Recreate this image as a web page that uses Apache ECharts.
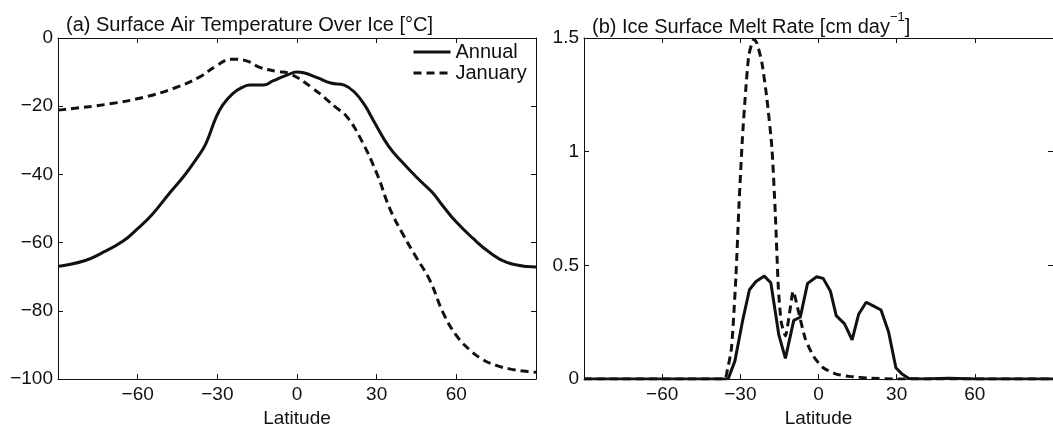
<!DOCTYPE html>
<html><head><meta charset="utf-8">
<script src="https://cdn.jsdelivr.net/npm/echarts@6/dist/echarts.min.js"></script>
<style>html,body{margin:0;padding:0;background:#fff}#c{width:1053px;height:433px}</style>
</head><body><div id="c"></div>
<script>
// ---- data ----
const latTicks = [-90, -60, -30, 0, 30, 60, 90];
const tempTicks = [-100, -80, -60, -40, -20, 0];
const meltTicks = [0, 0.5, 1, 1.5];

const annualTempLat = [-90,-87.9,-80,-73.9,-65.6,-59.9,-54.8,-47.8,-42.7,-38.2,-34.4,-30.6,-28,-24.2,-20.4,-17.8,-12.7,-8.9,-3.8,0,2.5,7.6,12.7,17.8,21.7,25.5,29.3,34.4,39.5,45.9,51,54.8,59.9,66.2,72.6,79,86.6,90];
const annualTempVal = [-66.9,-66.7,-65.3,-63.2,-59.6,-55.8,-52,-45.3,-40.6,-35.8,-31.1,-23.5,-19.7,-16.3,-14.4,-13.8,-13.8,-12.5,-10.9,-10,-10.2,-11.6,-13.2,-13.8,-15.9,-19.7,-24.9,-31.6,-36.3,-41.5,-45.3,-49.1,-53.9,-58.7,-62.9,-65.8,-67,-67.1];

const janTempLat = [-90,-88,-70.5,-57.9,-46.6,-36.6,-30.3,-24.6,-19,-14,-7.6,-2.7,6,14.9,18.6,23.6,30,35,40,45,50,55,60,65,70,75,80,87,90];
const janTempVal = [-21.1,-21,-19.3,-17.4,-14.8,-11.4,-8.1,-6.2,-6.7,-8.6,-9.8,-10.5,-14.8,-20.5,-22.9,-29,-39.6,-50.1,-57.7,-64.4,-71,-80.5,-87.2,-91.4,-94.3,-96,-97,-97.8,-98];

const annualMeltLat = [-90,-36,-34.6,-32.1,-29,-26.5,-24,-20.8,-18.3,-15.2,-12.7,-9.5,-7,-4.2,-0.7,1.8,4.6,6.8,10,12.9,15.4,18.3,21.2,24,26.9,29.7,32.2,34.7,40,50,60,90];
const annualMeltVal = [0,0,0.003,0.079,0.264,0.393,0.429,0.453,0.424,0.193,0.091,0.258,0.272,0.421,0.45,0.443,0.386,0.279,0.243,0.172,0.285,0.338,0.321,0.304,0.207,0.05,0.021,0.003,0,0.004,0,0];

const janMeltLat = [-90,-36,-35.3,-33.4,-31.7,-30.5,-29.2,-27.9,-26.7,-24.8,-23.6,-21.7,-19.8,-17.9,-16.6,-15.4,-14.3,-12.7,-11,-9.7,-7.6,-5.1,-1.9,1.8,6.8,11.8,20,30,90];
const janMeltVal = [0,0,0.022,0.136,0.45,0.77,1.06,1.276,1.426,1.495,1.476,1.39,1.233,1.02,0.734,0.4,0.25,0.19,0.3,0.386,0.293,0.179,0.1,0.05,0.022,0.012,0.004,0,0];

const seriesNames = ['Annual', 'January'];
// ---- chart ----
const zip = (a, b) => a.map((v, i) => [v, b[i]]);
const FONT = 'Liberation Sans, Arial, Helvetica, sans-serif';
const INK = '#111';
const FS = 19;
const minus = v => String(v).replace('-', '\u2212');

function xAxes(gi) {
  return [
    { type: 'value', gridIndex: gi, min: latTicks[0], max: latTicks[latTicks.length-1], interval: 30, position: 'bottom',
      name: 'Latitude', nameLocation: 'middle', nameGap: 20,
      nameTextStyle: { fontSize: FS, color: INK, fontFamily: FONT },
      axisLine: { show: true, onZero: false, lineStyle: { color: INK, width: 1 } },
      axisTick: { show: true, inside: true, length: 5, lineStyle: { color: INK } },
      axisLabel: { show: true, showMinLabel: false, showMaxLabel: false, margin: 6, fontSize: FS, color: INK, fontFamily: FONT, formatter: minus },
      splitLine: { show: false } },
    { type: 'value', gridIndex: gi, min: latTicks[0], max: latTicks[latTicks.length-1], interval: 30, position: 'top',
      axisLine: { show: true, onZero: false, lineStyle: { color: INK, width: 1 } },
      axisTick: { show: true, inside: true, length: 5, lineStyle: { color: INK } },
      axisLabel: { show: false }, splitLine: { show: false } }
  ];
}
function yAxes(gi, ticks, interval) {
  return [
    { type: 'value', gridIndex: gi, min: ticks[0], max: ticks[ticks.length-1], interval: interval, position: 'left',
      axisLine: { show: true, onZero: false, lineStyle: { color: INK, width: 1 } },
      axisTick: { show: true, inside: true, length: 5, lineStyle: { color: INK } },
      axisLabel: { show: true, margin: 5, fontSize: FS, color: INK, fontFamily: FONT, formatter: minus },
      splitLine: { show: false } },
    { type: 'value', gridIndex: gi, min: ticks[0], max: ticks[ticks.length-1], interval: interval, position: 'right',
      axisLine: { show: true, onZero: false, lineStyle: { color: INK, width: 1 } },
      axisTick: { show: true, inside: true, length: 5, lineStyle: { color: INK } },
      axisLabel: { show: false }, splitLine: { show: false } }
  ];
}
const solid = { color: INK, width: 3, type: 'solid' };
const dashed = { color: INK, width: 3, type: [8, 5] };

const option = {
  animation: false,
  backgroundColor: '#fff',
  textStyle: { fontFamily: FONT },
  title: [
    { text: '(a) Surface Air Temperature Over Ice [\u00B0C]', left: 61, top: 10,
      textStyle: { fontSize: 20, fontWeight: 'normal', color: INK, fontFamily: FONT } },
    { text: '{a|(b) Ice Surface Melt Rate [cm day}{s|\u22121}{a|]}', left: 587, top: 6,
      textStyle: { fontSize: 20, fontWeight: 'normal', color: INK, fontFamily: FONT,
        rich: { a: { fontSize: 20, color: INK, fontFamily: FONT, lineHeight: 26, verticalAlign: 'bottom' },
                s: { fontSize: 13, color: INK, fontFamily: FONT, lineHeight: 26, verticalAlign: 'top' } } } }
  ],
  legend: {
    data: seriesNames, left: 412, top: 42, orient: 'vertical', itemWidth: 37, itemHeight: 12, itemGap: 1,
    padding: 0, itemStyle: { opacity: 0, borderWidth: 0 }, lineStyle: { width: 3 },
    textStyle: { fontSize: 20, color: INK, fontFamily: FONT }
  },
  grid: [
    { left: 58, top: 38, width: 478, height: 350, containLabel: false },
    { left: 584, top: 38, width: 478, height: 350, containLabel: false }
  ],
  xAxis: [...xAxes(0), ...xAxes(1)],
  yAxis: [...yAxes(0, tempTicks, 20), ...yAxes(1, meltTicks, 0.5)],
  series: [
    { name: seriesNames[0], type: 'line', xAxisIndex: 0, yAxisIndex: 0, data: zip(annualTempLat, annualTempVal), symbol: 'none', smooth: 0.45, lineStyle: solid, itemStyle: { color: INK } },
    { name: seriesNames[1], type: 'line', xAxisIndex: 0, yAxisIndex: 0, data: zip(janTempLat, janTempVal), symbol: 'none', smooth: 0.45, lineStyle: dashed, itemStyle: { color: INK } },
    { name: seriesNames[0], type: 'line', xAxisIndex: 2, yAxisIndex: 2, data: zip(annualMeltLat, annualMeltVal), symbol: 'none', lineStyle: solid, itemStyle: { color: INK } },
    { name: seriesNames[1], type: 'line', xAxisIndex: 2, yAxisIndex: 2, data: zip(janMeltLat, janMeltVal), symbol: 'none', smooth: 0.2, lineStyle: dashed, itemStyle: { color: INK } }
  ]
};
const chart = echarts.init(document.getElementById('c'), null, { renderer: 'canvas' });
chart.setOption(option);
</script>
</body></html>
